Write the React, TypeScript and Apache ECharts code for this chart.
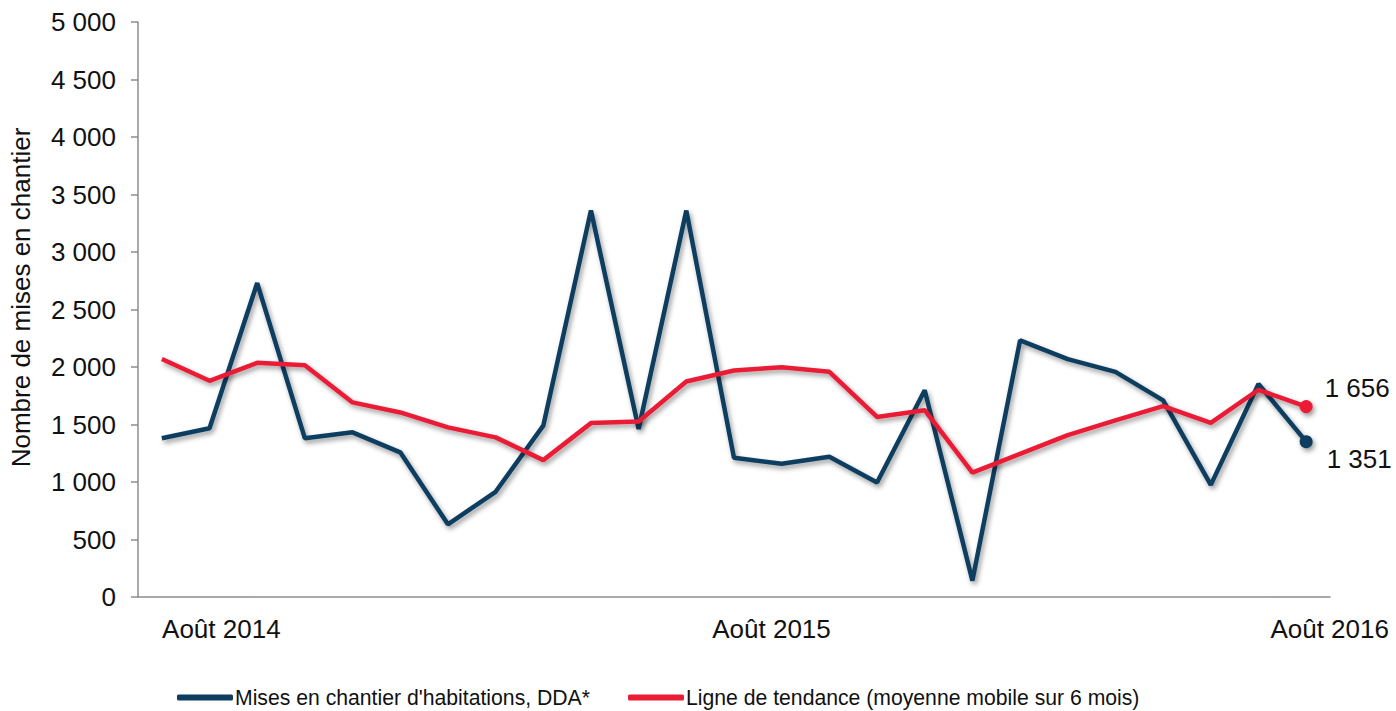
import React, { useEffect, useRef } from "react";
import * as echarts from "echarts";

const months = [
  "Août 2014", "Sept. 2014", "Oct. 2014", "Nov. 2014", "Déc. 2014",
  "Janv. 2015", "Févr. 2015", "Mars 2015", "Avr. 2015", "Mai 2015",
  "Juin 2015", "Juil. 2015", "Août 2015", "Sept. 2015", "Oct. 2015",
  "Nov. 2015", "Déc. 2015", "Janv. 2016", "Févr. 2016", "Mars 2016",
  "Avr. 2016", "Mai 2016", "Juin 2016", "Juil. 2016", "Août 2016",
];

const misesEnChantier = [
  1380, 1468, 2730, 1380, 1432, 1258, 632, 915, 1490, 3362,
  1460, 3360, 1210, 1158, 1220, 996, 1798, 142, 2232, 2068,
  1958, 1710, 975, 1852, 1351,
];

const tendance = [
  2070, 1880, 2036, 2016, 1692, 1605, 1475, 1388, 1190, 1512,
  1526, 1874, 1970, 1998, 1958, 1566, 1624, 1082, 1245, 1408,
  1536, 1660, 1514, 1802, 1656,
];

const yTicks = { min: 0, max: 5000, interval: 500 };

const seriesNames = [
  "Mises en chantier d'habitations, DDA*",
  "Ligne de tendance (moyenne mobile sur 6 mois)",
];

const yAxisName = "Nombre de mises en chantier";

const BLUE = "#0d3d5f";
const RED = "#ea1c36";
const FONT = "'Liberation Sans', Arial, sans-serif";

const fmt = (v: number) => String(v).replace(/\B(?=(\d{3})+(?!\d))/g, " ");

export default function App() {
  const ref = useRef<HTMLDivElement>(null);

  useEffect(() => {
    if (!ref.current) return;
    const chart = echarts.init(ref.current, null, { renderer: "svg" });
    const shadow = {
      shadowColor: "rgba(0,0,0,0.4)",
      shadowBlur: 5,
      shadowOffsetX: 2,
      shadowOffsetY: 3,
    };
    const last = months.length - 1;
    const withEnd = (arr: number[], color: string, offset: number[]) =>
      arr.map((v, i) =>
        i === last
          ? {
              value: v,
              symbol: "circle",
              symbolSize: 13,
              itemStyle: { color, ...shadow },
              label: {
                show: true,
                position: "right",
                distance: 12,
                offset,
                formatter: (p: any) => fmt(p.value),
                color: "#111",
                fontSize: 26,
                fontFamily: FONT,
              },
            }
          : v
      );

    const labelPads: Record<number, number> = { 0: 119, 12: 75, 24: 47 };

    chart.setOption({
      animation: false,
      backgroundColor: "#ffffff",
      textStyle: { fontFamily: FONT },
      grid: { left: 137, right: 66, top: 22, bottom: 114, containLabel: false },
      legend: {
        bottom: -2,
        left: 172,
        itemWidth: 56,
        itemHeight: 6,
        itemGap: 38,
        icon: "roundRect",
        textStyle: { fontSize: 21.2, color: "#111", fontFamily: FONT, padding: [0, 0, 0, -3] },
        data: seriesNames,
      },
      xAxis: {
        type: "category",
        data: months,
        boundaryGap: true,
        axisLine: { lineStyle: { color: "#8c8c8c", width: 1.5 } },
        axisTick: { show: false },
        axisLabel: {
          interval: (idx: number) => idx % 12 === 0,
          margin: 19,
          color: "#111",
          fontSize: 26,
          fontFamily: FONT,
          formatter: (v: string, idx: number) => `{p${idx}|${v}}`,
          rich: Object.fromEntries(
            Object.entries(labelPads).map(([k, pad]) => [
              `p${k}`,
              { fontSize: 26, fontFamily: FONT, color: "#111", padding: [0, 0, 0, pad] },
            ])
          ),
        },
      },
      yAxis: {
        type: "value",
        min: yTicks.min,
        max: yTicks.max,
        interval: yTicks.interval,
        name: yAxisName,
        nameLocation: "middle",
        nameGap: 104,
        nameRotate: 90,
        nameTextStyle: { fontSize: 26, color: "#111", fontFamily: FONT, padding: [0, 0, 0, 24] },
        axisLine: { show: true, lineStyle: { color: "#8c8c8c", width: 1.5 } },
        axisTick: { show: true, length: 7, lineStyle: { color: "#8c8c8c", width: 1.5 } },
        splitLine: { show: false },
        axisLabel: {
          margin: 22,
          color: "#111",
          fontSize: 26,
          fontFamily: FONT,
          formatter: (v: number) => fmt(v),
        },
      },
      series: [
        {
          name: seriesNames[0],
          type: "line",
          data: withEnd(misesEnChantier, BLUE, [2, 17]),
          symbol: "none",
          showSymbol: true,
          color: BLUE,
          lineStyle: { color: BLUE, width: 4.5, ...shadow },
          z: 2,
        },
        {
          name: seriesNames[1],
          type: "line",
          data: withEnd(tendance, RED, [0, -19]),
          symbol: "none",
          showSymbol: true,
          color: RED,
          lineStyle: { color: RED, width: 4.5, ...shadow },
          z: 3,
        },
      ],
    });
    return () => chart.dispose();
  }, []);

  return (
    <div
      ref={ref}
      style={{ position: "fixed", left: 0, top: 0, width: 1396, height: 711, background: "#fff" }}
    />
  );
}
